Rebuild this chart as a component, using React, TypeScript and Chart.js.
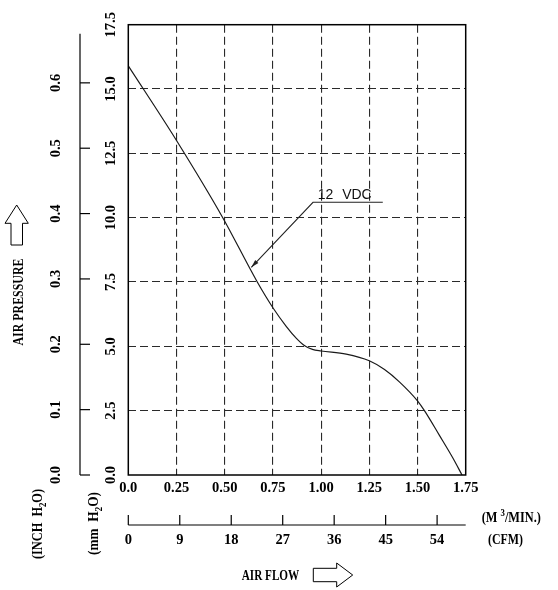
import React, { useEffect, useRef } from "react";
import { Chart, registerables } from "chart.js";

Chart.register(...registerables);

// ---- data ----
const FLOW_M3 = [0, 0.25, 0.49, 0.669, 0.75, 0.82, 0.872, 0.915, 0.955, 1.0, 1.13, 1.25, 1.329, 1.406, 1.5, 1.536, 1.613, 1.682, 1.731];
const PRESSURE_MM = [15.9, 13.0, 10.0, 7.5, 6.5, 5.77, 5.31, 5.02, 4.88, 4.82, 4.7, 4.44, 4.1, 3.62, 2.88, 2.5, 1.55, 0.68, 0];

const FLOW_TICKS = [0, 0.25, 0.5, 0.75, 1.0, 1.25, 1.5, 1.75];
const FLOW_TICK_LABELS = ["0.0", "0.25", "0.50", "0.75", "1.00", "1.25", "1.50", "1.75"];
const MM_TICKS = [0, 2.5, 5, 7.5, 10, 12.5, 15, 17.5];
const MM_TICK_LABELS = ["0.0", "2.5", "5.0", "7.5", "10.0", "12.5", "15.0", "17.5"];
const INCH_TICKS = [0, 0.1, 0.2, 0.3, 0.4, 0.5, 0.6];
const INCH_TICK_LABELS = ["0.0", "0.1", "0.2", "0.3", "0.4", "0.5", "0.6"];
const CFM_TICKS = [0, 9, 18, 27, 36, 45, 54];
const CFM_TICK_LABELS = ["0", "9", "18", "27", "36", "45", "54"];
const CFM_AXIS_MAX = 59;
const INCH_AXIS_TOP = 0.675;
const MM_PER_INCH = 25.4;
const FLOW_MAX = 1.75;
const MM_MAX = 17.5;

const SERIES_LABEL = "12 VDC";
// annotation anchors in data units (m3/min, mmH2O)
const LEADER_START = { x: 0.958, y: 10.6 };
const LEADER_END_X = 1.32;
const ARROW_TIP = { x: 0.638, y: 8.07 };

const SERIF = '"Liberation Serif", "Times New Roman", serif';
const SANS = '"Liberation Sans", Arial, sans-serif';

type Part = { t: string; size: number; dy?: number };

function drawRich(ctx: CanvasRenderingContext2D, parts: Part[], x: number, y: number, align: "left" | "center", sx = 1) {
  ctx.save();
  ctx.translate(x, y);
  ctx.scale(sx, 1);
  ctx.textAlign = "left";
  ctx.textBaseline = "alphabetic";
  const widths = parts.map((p) => {
    ctx.font = `bold ${p.size}px ${SERIF}`;
    return ctx.measureText(p.t).width;
  });
  const total = widths.reduce((a, b) => a + b, 0);
  let cx = align === "center" ? -total / 2 : 0;
  parts.forEach((p, i) => {
    ctx.font = `bold ${p.size}px ${SERIF}`;
    ctx.fillText(p.t, cx, p.dy || 0);
    cx += widths[i];
  });
  ctx.restore();
}

function drawRotated(ctx: CanvasRenderingContext2D, parts: Part[], x: number, y: number, sx = 1) {
  ctx.save();
  ctx.translate(x, y);
  ctx.rotate(-Math.PI / 2);
  drawRich(ctx, parts, 0, 0, "center", sx);
  ctx.restore();
}

const axesPlugin = {
  id: "fanAxes",
  afterDraw(chart: any) {
    const { ctx, chartArea } = chart;
    const xs = chart.scales.x;
    const ys = chart.scales.y;
    const { left, right, top, bottom } = chartArea;
    ctx.save();
    ctx.fillStyle = "#000";
    ctx.strokeStyle = "#000";

    // frame
    ctx.lineWidth = 1.5;
    ctx.strokeRect(left, top, right - left, bottom - top);

    // mm tick labels (rotated)
    MM_TICKS.forEach((v, i) => {
      drawRotated(ctx, [{ t: MM_TICK_LABELS[i], size: 14.5 }], left - 13.3, ys.getPixelForValue(v));
    });

    // flow tick labels
    FLOW_TICKS.forEach((v, i) => {
      drawRich(ctx, [{ t: FLOW_TICK_LABELS[i], size: 14.5 }], xs.getPixelForValue(v), bottom + 16.7, "center");
    });

    // inch axis
    const ax = left - 48.3;
    ctx.lineWidth = 1.2;
    ctx.beginPath();
    ctx.moveTo(ax, ys.getPixelForValue(INCH_AXIS_TOP * MM_PER_INCH));
    ctx.lineTo(ax, ys.getPixelForValue(0));
    ctx.stroke();
    INCH_TICKS.forEach((v, i) => {
      const py = ys.getPixelForValue(v * MM_PER_INCH);
      ctx.beginPath();
      ctx.moveTo(ax, py);
      ctx.lineTo(ax + 10, py);
      ctx.stroke();
      drawRotated(ctx, [{ t: INCH_TICK_LABELS[i], size: 14.5 }], left - 68, py);
    });

    // CFM axis
    const cfmPx = (c: number) => xs.getPixelForValue((c / CFM_AXIS_MAX) * xs.max);
    const cy = bottom + 50;
    ctx.beginPath();
    ctx.moveTo(cfmPx(0), cy);
    ctx.lineTo(cfmPx(CFM_AXIS_MAX), cy);
    ctx.stroke();
    CFM_TICKS.forEach((c, i) => {
      const px = cfmPx(c);
      ctx.beginPath();
      ctx.moveTo(px, cy);
      ctx.lineTo(px, cy - 10);
      ctx.stroke();
      drawRich(ctx, [{ t: CFM_TICK_LABELS[i], size: 14.5 }], px, cy + 19.3, "center");
    });

    // unit labels
    drawRotated(ctx, [{ t: "(INCH  H", size: 14 }, { t: "2", size: 10, dy: 3.5 }, { t: "O)", size: 14 }], 42, 524, 0.88);
    drawRotated(ctx, [{ t: "(mm  H", size: 14 }, { t: "2", size: 10, dy: 3.5 }, { t: "O)", size: 14 }], 98, 523.5, 0.95);
    drawRich(ctx, [{ t: "(M ", size: 14 }, { t: "3", size: 10, dy: -5.5 }, { t: "/MIN.)", size: 14 }], 481.7, 521.8, "left", 0.88);
    drawRich(ctx, [{ t: "(CFM)", size: 14 }], 488, 543.8, "left", 0.85);

    // axis names
    drawRich(ctx, [{ t: "AIR FLOW", size: 14 }], 241.7, 579.8, "left", 0.8);
    drawRotated(ctx, [{ t: "AIR PRESSURE", size: 14 }], 23, 302, 0.85);

    // outline arrows
    ctx.lineWidth = 1;
    ctx.beginPath();
    ctx.moveTo(16.7, 205);
    ctx.lineTo(28.3, 223.3);
    ctx.lineTo(22.5, 223.3);
    ctx.lineTo(22.5, 245);
    ctx.lineTo(11, 245);
    ctx.lineTo(11, 223.3);
    ctx.lineTo(5, 223.3);
    ctx.closePath();
    ctx.stroke();

    ctx.beginPath();
    ctx.moveTo(352.7, 575);
    ctx.lineTo(336.7, 563);
    ctx.lineTo(336.7, 568.3);
    ctx.lineTo(313.3, 568.3);
    ctx.lineTo(313.3, 581.7);
    ctx.lineTo(336.7, 581.7);
    ctx.lineTo(336.7, 587);
    ctx.closePath();
    ctx.stroke();

    // series annotation
    const sx0 = xs.getPixelForValue(LEADER_START.x);
    const sy0 = ys.getPixelForValue(LEADER_START.y);
    const ex = xs.getPixelForValue(LEADER_END_X);
    const tx = xs.getPixelForValue(ARROW_TIP.x);
    const ty = ys.getPixelForValue(ARROW_TIP.y);
    ctx.lineWidth = 1.1;
    ctx.strokeStyle = "#222";
    ctx.beginPath();
    ctx.moveTo(ex, sy0);
    ctx.lineTo(sx0, sy0);
    ctx.lineTo(tx, ty);
    ctx.stroke();
    const ang = Math.atan2(ty - sy0, tx - sx0);
    const L = 8, W = 2.2;
    ctx.fillStyle = "#222";
    ctx.beginPath();
    ctx.moveTo(tx, ty);
    ctx.lineTo(tx - L * Math.cos(ang) + W * Math.sin(ang), ty - L * Math.sin(ang) - W * Math.cos(ang));
    ctx.lineTo(tx - L * Math.cos(ang) - W * Math.sin(ang), ty - L * Math.sin(ang) + W * Math.cos(ang));
    ctx.closePath();
    ctx.fill();

    ctx.font = `14px ${SANS}`;
    ctx.textAlign = "left";
    ctx.textBaseline = "alphabetic";
    (ctx as any).wordSpacing = "5px";
    ctx.fillStyle = "#111";
    ctx.fillText(SERIES_LABEL, sx0 + 4.7, sy0 - 3);
    (ctx as any).wordSpacing = "0px";

    ctx.restore();
  },
};

const gridColor = (edgeA: number, edgeB: number) => (c: any) => {
  const v = c.tick ? c.tick.value : null;
  return v === edgeA || v === edgeB ? "rgba(0,0,0,0)" : "#2a2a2a";
};

export default function App() {
  const ref = useRef<HTMLCanvasElement | null>(null);
  useEffect(() => {
    if (!ref.current) return;
    const chart = new Chart(ref.current, {
      type: "line",
      data: {
        datasets: [
          {
            label: SERIES_LABEL,
            data: FLOW_M3.map((f, i) => ({ x: f, y: PRESSURE_MM[i] })),
            borderColor: "#1a1a1a",
            borderWidth: 1.2,
            pointRadius: 0,
            cubicInterpolationMode: "monotone",
            fill: false,
          } as any,
        ],
      },
      options: {
        animation: false,
        responsive: true,
        maintainAspectRatio: false,
        layout: { padding: { left: 128.3, top: 24.7, right: 92.3, bottom: 115 } },
        plugins: { legend: { display: false }, tooltip: { enabled: false } },
        scales: {
          x: {
            type: "linear",
            min: 0,
            max: FLOW_MAX,
            afterBuildTicks: (s: any) => {
              s.ticks = FLOW_TICKS.map((v) => ({ value: v }));
            },
            afterFit: (s: any) => {
              s.height = 0;
            },
            ticks: { display: false },
            grid: { drawTicks: false, color: gridColor(0, FLOW_MAX), lineWidth: 1.1 },
            border: { display: false, dash: [8, 4] },
          },
          y: {
            type: "linear",
            min: 0,
            max: MM_MAX,
            afterBuildTicks: (s: any) => {
              s.ticks = MM_TICKS.map((v) => ({ value: v }));
            },
            afterFit: (s: any) => {
              s.width = 0;
            },
            ticks: { display: false },
            grid: { drawTicks: false, color: gridColor(0, MM_MAX), lineWidth: 1.1 },
            border: { display: false, dash: [8, 4] },
          },
        },
      } as any,
      plugins: [axesPlugin],
    });
    return () => chart.destroy();
  }, []);
  return (
    <div style={{ position: "fixed", left: 0, top: 0, width: 558, height: 590, background: "#fff" }}>
      <canvas ref={ref} />
    </div>
  );
}
